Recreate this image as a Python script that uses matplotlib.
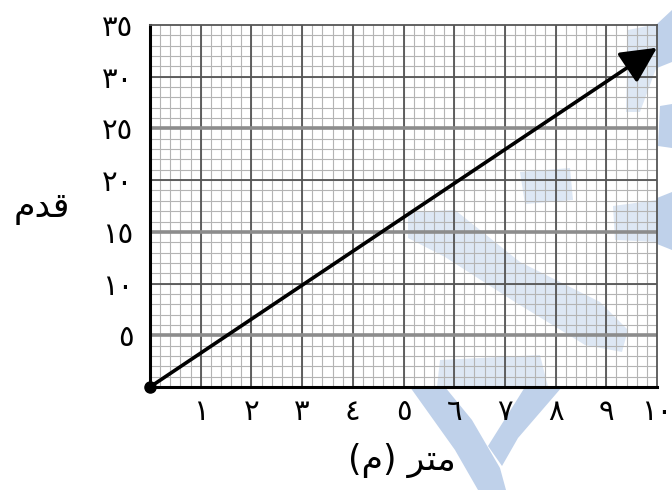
import matplotlib
matplotlib.use("Agg")
import matplotlib.pyplot as plt
import numpy as np
from matplotlib.patches import Polygon, FancyArrowPatch

plt.rcParams['font.family'] = ['DejaVu Sans']

# metres -> feet
metres = [0, 10]
feet = [0, 32.8]

x_ticks = [1, 2, 3, 4, 5, 6, 7, 8, 9, 10]
x_tick_labels = ['١', '٢', '٣', '٤', '٥', '٦', '٧', '٨', '٩', '١٠']
y_ticks = [5, 10, 15, 20, 25, 30, 35]
y_tick_labels = ['٥', '١٠', '١٥', '٢٠', '٢٥', '٣٠', '٣٥']

# labels already in visual (shaped) order
x_label = '(ﻡ) ﺮﺘﻣ'
y_label = 'ﻡﺪﻗ'

W, H = 672, 490
fig = plt.figure(figsize=(W / 100, H / 100), dpi=100)
ax = fig.add_axes([150 / W, 1 - 387 / H, (657 - 150) / W, (387 - 25) / H])
ax.set_facecolor('none')

# light blue watermark behind the grid, in pixel coordinates (y downwards)
wm_inner = [
    [(408, 212), (455, 210), (520, 262), (600, 302), (628, 330), (622, 352),
     (585, 345), (515, 302), (445, 257), (408, 238)],
    [(520, 172), (570, 168), (573, 200), (525, 204)],
    [(440, 360), (540, 355), (548, 387), (437, 387)],
    [(613, 206), (657, 200), (657, 242), (615, 240)],
    [(628, 30), (657, 24), (657, 66), (640, 112), (626, 112)],
]
wm_outer = [
    [(657, 198), (672, 192), (672, 250), (657, 244)],
    [(657, 24), (672, 10), (672, 62), (657, 68)],
    [(660, 106), (672, 104), (672, 148), (658, 146)],
    [(410, 387), (445, 387), (472, 420), (500, 468), (506, 490), (478, 490), (455, 450)],
    [(525, 387), (562, 387), (518, 438), (502, 466), (488, 446)],
]
for shapes, color in [(wm_inner, '#dde7f4'), (wm_outer, '#bfd1ea')]:
    for shape in shapes:
        pts = [(px / W, 1 - py / H) for px, py in shape]
        fig.patches.append(Polygon(pts, closed=True, transform=fig.transFigure,
                                   facecolor=color, edgecolor='none', zorder=-5))

ax.set_xlim(0, 10)
ax.set_ylim(0, 35)

# graph paper: minor and major rulings
for xv in np.arange(0.2, 10, 0.2):
    ax.axvline(xv, color='#b4b4b4', lw=0.8, zorder=1)
for yv in np.arange(1, 35, 1):
    ax.axhline(yv, color='#b4b4b4', lw=0.8, zorder=1)
for xv in range(1, 10):
    ax.axvline(xv, color='#555555', lw=1.3, zorder=2)
for yv in range(5, 35, 5):
    if yv % 10 == 0:
        ax.axhline(yv, color='#555555', lw=1.3, zorder=2)
    else:
        ax.axhline(yv, color='#8c8c8c', lw=2.6, zorder=2)

for side in ['left', 'bottom']:
    ax.spines[side].set_linewidth(2.2)
    ax.spines[side].set_color('black')
for side in ['top', 'right']:
    ax.spines[side].set_linewidth(1.3)
    ax.spines[side].set_color('#555555')

ax.set_xticks(x_ticks)
ax.set_xticklabels(x_tick_labels, fontsize=21)
ax.set_yticks(y_ticks)
ax.set_yticklabels(y_tick_labels, fontsize=21)
ax.tick_params(axis='both', length=0)
ax.tick_params(axis='x', pad=8)
ax.tick_params(axis='y', pad=12)

# conversion line with arrow head
arrow = FancyArrowPatch((metres[0], feet[0]), (metres[1], feet[1]),
                        arrowstyle='-|>,head_length=1.0,head_width=0.5',
                        mutation_scale=22, color='black', lw=2.6,
                        shrinkA=0, shrinkB=0, zorder=5, clip_on=False)
ax.add_patch(arrow)
ax.plot(metres[0], feet[0], 'o', color='black', ms=8, zorder=6, clip_on=False)

fig.text(402 / W, 1 - 460 / H, x_label, fontsize=25, ha='center', va='center')
fig.text(42 / W, 1 - 208 / H, y_label, fontsize=25, ha='center', va='center')

fig.savefig('out.png', dpi=100)
